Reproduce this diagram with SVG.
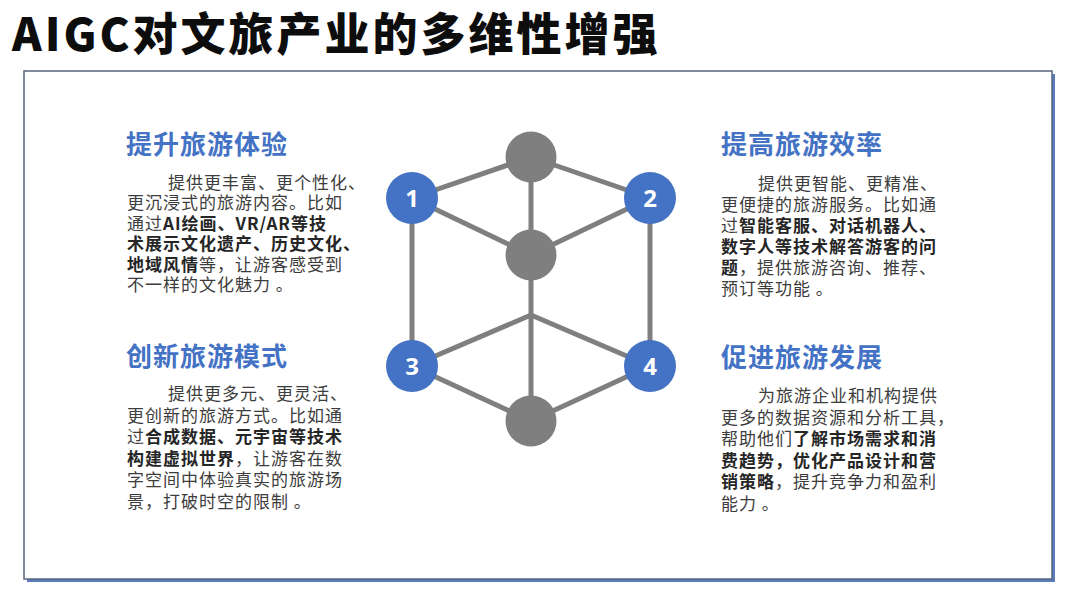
<svg xmlns="http://www.w3.org/2000/svg" width="1080" height="607" viewBox="0 0 1080 607">
<style>
.title{font-family:"Noto Sans CJK SC","Noto Sans",sans-serif;font-weight:900;font-size:45px;letter-spacing:3px;fill:#0d0d0d}
.head{font-family:"Noto Sans CJK SC",sans-serif;font-weight:bold;font-size:26px;letter-spacing:1px;fill:#4472c4}
.body{font-family:"Noto Sans CJK SC",sans-serif;font-size:17px;letter-spacing:1px;fill:#3d3d3d}
.b{font-weight:bold;fill:#262626}
.edge{stroke:#7f7f7f;stroke-width:5;stroke-linecap:round;fill:none}
.gray{fill:#7f7f7f}
.blue{fill:#4472c4}
.num{font-family:"Open Sans","Noto Sans",sans-serif;font-weight:bold;font-size:24px;fill:#ffffff;text-anchor:middle}
</style>
<rect width="1080" height="607" fill="#ffffff"/>
<text class="title" x="12" y="51">AIGC对文旅产业的多维性增强</text>
<g id="frame">
<rect x="27" y="74" width="1028" height="508" fill="#5b7bbf"/>
<rect x="24" y="71" width="1028" height="508" fill="#ffffff" stroke="#56657c" stroke-width="1.5"/>
</g>
<g id="connectors">
<line class="edge" x1="412" y1="198" x2="531" y2="157"/>
<line class="edge" x1="531" y1="157" x2="650" y2="198"/>
<line class="edge" x1="412" y1="198" x2="531" y2="255"/>
<line class="edge" x1="531" y1="255" x2="650" y2="198"/>
<line class="edge" x1="531" y1="157" x2="531" y2="255"/>
<line class="edge" x1="412" y1="198" x2="412" y2="366"/>
<line class="edge" x1="650" y1="198" x2="650" y2="366"/>
<line class="edge" x1="531" y1="255" x2="531" y2="421"/>
<line class="edge" x1="531" y1="315" x2="412" y2="366"/>
<line class="edge" x1="531" y1="315" x2="650" y2="366"/>
<line class="edge" x1="412" y1="366" x2="531" y2="421"/>
<line class="edge" x1="650" y1="366" x2="531" y2="421"/>
</g>
<g id="node-top"><circle class="gray" cx="531" cy="157" r="25.5"/></g>
<g id="node-mid"><circle class="gray" cx="531" cy="255" r="25.5"/></g>
<g id="node-bottom"><circle class="gray" cx="531" cy="421" r="25.5"/></g>
<g id="node-1"><circle class="blue" cx="412" cy="198" r="26"/><text class="num" x="412" y="206.5">1</text></g>
<g id="node-2"><circle class="blue" cx="650" cy="198" r="26"/><text class="num" x="650" y="206.5">2</text></g>
<g id="node-3"><circle class="blue" cx="412" cy="366" r="26"/><text class="num" x="412" y="374.5">3</text></g>
<g id="node-4"><circle class="blue" cx="650" cy="366" r="26"/><text class="num" x="650" y="374.5">4</text></g>
<g id="block-1">
<text class="head" x="126" y="154">提升旅游体验</text>
<text class="body" x="168" y="188.5">提供更丰富、更个性化、</text>
<text class="body" x="127" y="209">更沉浸式的旅游内容。比如</text>
<text class="body" x="127" y="229.5">通过<tspan class="b">AI绘画、VR/AR等技</tspan></text>
<text class="body b" x="127" y="250">术展示文化遗产、历史文化、</text>
<text class="body" x="127" y="270.5"><tspan class="b">地域风情</tspan>等，让游客感受到</text>
<text class="body" x="127" y="291">不一样的文化魅力 。</text>
</g>
<g id="block-2">
<text class="head" x="721" y="154">提高旅游效率</text>
<text class="body" x="758" y="189.5">提供更智能、更精准、</text>
<text class="body" x="721" y="210.5">更便捷的旅游服务。比如通</text>
<text class="body" x="721" y="231.5">过<tspan class="b">智能客服、对话机器人、</tspan></text>
<text class="body b" x="721" y="252.5">数字人等技术解答游客的问</text>
<text class="body" x="721" y="273.5"><tspan class="b">题</tspan>，提供旅游咨询、推荐、</text>
<text class="body" x="721" y="294.5">预订等功能 。</text>
</g>
<g id="block-3">
<text class="head" x="126" y="366">创新旅游模式</text>
<text class="body" x="168" y="400">提供更多元、更灵活、</text>
<text class="body" x="127" y="421.6">更创新的旅游方式。比如通</text>
<text class="body" x="127" y="443.2">过<tspan class="b">合成数据、元宇宙等技术</tspan></text>
<text class="body" x="127" y="464.8"><tspan class="b">构建虚拟世界</tspan>，让游客在数</text>
<text class="body" x="127" y="486.4">字空间中体验真实的旅游场</text>
<text class="body" x="127" y="508">景，打破时空的限制 。</text>
</g>
<g id="block-4">
<text class="head" x="721" y="367">促进旅游发展</text>
<text class="body" x="758" y="402">为旅游企业和机构提供</text>
<text class="body" x="721" y="423.6">更多的数据资源和分析工具，</text>
<text class="body" x="721" y="445.2">帮助他们<tspan class="b">了解市场需求和消</tspan></text>
<text class="body b" x="721" y="466.8">费趋势，优化产品设计和营</text>
<text class="body" x="721" y="488.4"><tspan class="b">销策略</tspan>，提升竞争力和盈利</text>
<text class="body" x="721" y="510">能力 。</text>
</g>
</svg>
